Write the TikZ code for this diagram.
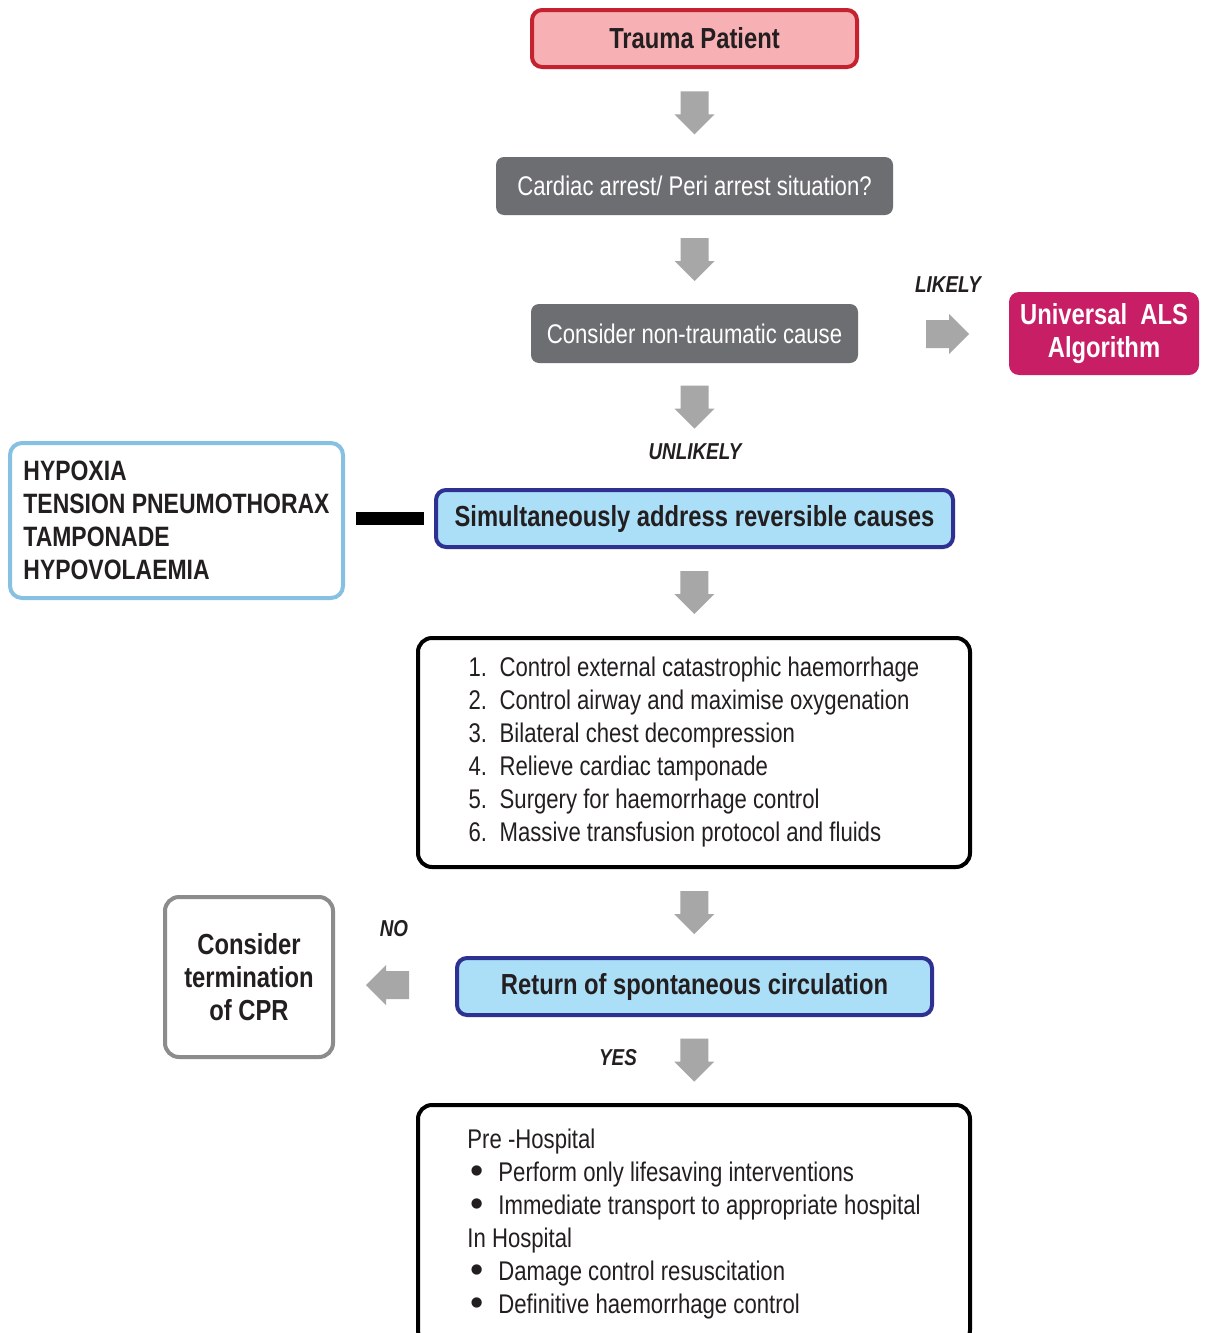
\documentclass[tikz,border=0pt]{standalone}
\usepackage{graphicx}
\usepackage{fontspec}
\setmainfont{Liberation Sans}[FakeStretch=0.82]
\newfontfamily\bulfont{Liberation Sans}
\usetikzlibrary{calc}
\definecolor{txt}{HTML}{231F20}
\definecolor{pinkfill}{HTML}{F7B1B4}
\definecolor{redline}{HTML}{C4222F}
\definecolor{darkgray}{HTML}{6D6E71}
\definecolor{magenta}{HTML}{C81E65}
\definecolor{skyline}{HTML}{86C0E3}
\definecolor{skyfill}{HTML}{ABDFF7}
\definecolor{navyline}{HTML}{2E3192}
\definecolor{greyline}{HTML}{8C8C8C}
\definecolor{arrowgray}{HTML}{A7A7A7}
\newcommand\dnarrow[1]{\fill[arrowgray, shift={(#1)}] (-14,-21.5) -- (14,-21.5) -- (14,1.5) -- (20,1.5) -- (0,21.5) -- (-20,1.5) -- (-14,1.5) -- cycle;}
\newcommand\rtarrow[1]{\fill[arrowgray, shift={(#1)}] (-21.5,-14) -- (1.5,-14) -- (1.5,-20) -- (21.5,0) -- (1.5,20) -- (1.5,14) -- (-21.5,14) -- cycle;}
\newcommand\lfarrow[1]{\fill[arrowgray, shift={(#1)}] (21.5,-14) -- (-1.5,-14) -- (-1.5,-20) -- (-21.5,0) -- (-1.5,20) -- (-1.5,14) -- (21.5,14) -- cycle;}
\newcommand\numitem[2]{\makebox[31pt][l]{#1}#2}
\newcommand\bulitem[1]{\makebox[31pt][l]{\kern3pt\raisebox{-1.5pt}{\scalebox{1.4}{\bulfont •}}}#1}
\begin{document}
\begin{tikzpicture}[x=1pt,y=-1pt,
  boldtxt/.style={font=\fontsize{29}{33}\selectfont\bfseries, text=txt},
  regtxt/.style={font=\fontsize{27}{33}\selectfont, text=txt},
  label/.style={font=\fontsize{23}{26}\selectfont\bfseries\itshape, text=txt, inner sep=0},
  box/.style={rectangle, inner sep=0, anchor=center},
]
\useasboundingbox (0,0) rectangle (1207,1333);
\fill[white] (0,0) rectangle (1207,1333);
\clip (0,0) rectangle (1207,1333);

\node[box, boldtxt, fill=pinkfill, draw=redline, line width=4pt, rounded corners=10pt,
  minimum width=325, minimum height=57] (trauma) at (694.5,38.5) {Trauma Patient};
\node[box, regtxt, text=white, fill=darkgray, rounded corners=8pt,
  minimum width=397, minimum height=58] (cardiac) at (694.5,186) {Cardiac arrest/ Peri arrest situation?};
\node[box, regtxt, text=white, fill=darkgray, rounded corners=8pt,
  minimum width=327, minimum height=59] (noncause) at (694.5,333.5) {Consider non-traumatic cause};
\node[box, boldtxt, text=white, fill=magenta, rounded corners=10pt, align=center,
  minimum width=190, minimum height=83] (als) at (1104,333.5) {Universal\ \ ALS\\Algorithm};
\node[box, boldtxt, font=\fontsize{28}{33}\selectfont\bfseries, fill=white, draw=skyline, line width=4pt, rounded corners=12pt, align=left,
  minimum width=333, minimum height=155] (hyp) at (176.5,520.5) {HYPOXIA\\TENSION PNEUMOTHORAX\\TAMPONADE\\HYPOVOLAEMIA};
\node[box, boldtxt, fill=skyfill, draw=navyline, line width=4pt, rounded corners=10pt,
  minimum width=517, minimum height=57] (simul) at (694.5,518.5) {Simultaneously address reversible causes};
\node[box, regtxt, fill=white, draw=black, line width=4pt, rounded corners=14pt, align=left,
  minimum width=552, minimum height=229] (list) at (694,752.5)
  {\numitem{1.}{Control external catastrophic haemorrhage}\\
   \numitem{2.}{Control airway and maximise oxygenation}\\
   \numitem{3.}{Bilateral chest decompression}\\
   \numitem{4.}{Relieve cardiac tamponade}\\
   \numitem{5.}{Surgery for haemorrhage control}\\
   \numitem{6.}{Massive transfusion protocol and fluids}};
\node[box, boldtxt, fill=skyfill, draw=navyline, line width=4pt, rounded corners=10pt,
  minimum width=475, minimum height=57] (rosc) at (694.5,986.5) {Return of spontaneous circulation};
\node[box, boldtxt, fill=white, draw=greyline, line width=4pt, rounded corners=14pt, align=center,
  minimum width=168, minimum height=160] (term) at (249,977) {Consider\\termination\\of CPR};
\node[box, regtxt, fill=white, draw=black, line width=4pt, rounded corners=14pt, align=left,
  minimum width=552, minimum height=239] (care) at (694,1224.5)
  {Pre -Hospital\\
   \bulitem{Perform only lifesaving interventions}\\
   \bulitem{Immediate transport to appropriate hospital}\\
   In Hospital\\
   \bulitem{Damage control resuscitation}\\
   \bulitem{Definitive haemorrhage control}};

% labels
\node[label] (likely) at (948,285) {LIKELY};
\node[label] (unlikely) at (695,452) {UNLIKELY};
\node[label] (no) at (394,929) {NO};
\node[label] (yes) at (618,1058) {YES};

% block arrows
\coordinate (a1) at ($(trauma.south)!0.5!(cardiac.north)$);
\coordinate (a2) at ($(cardiac.south)!0.5!(noncause.north)$);
\coordinate (a3) at ($(noncause.south)+(0,44)$);
\coordinate (a4) at ($(simul.south)!0.5!(list.north)$);
\coordinate (a5) at ($(list.south)!0.5!(rosc.north)$);
\coordinate (a6) at ($(rosc.south)!0.5!(care.north)$);
\coordinate (ar) at ($(noncause.east)+(89.5,0.5)$);
\coordinate (al) at ($(term.east)+(52.5,8)$);
\dnarrow{a1}
\dnarrow{a2}
\dnarrow{a3}
\dnarrow{a4}
\dnarrow{a5}
\dnarrow{a6}
\rtarrow{ar}
\lfarrow{al}

% bar linking hypoxia list to reversible causes
\coordinate (barL) at ($(hyp.east)+(11,0)$);
\coordinate (barR) at ($(simul.west)+(-10,0)$);
\draw[line width=13pt, black] (barL |- simul.west) -- (barR);
\end{tikzpicture}
\end{document}
